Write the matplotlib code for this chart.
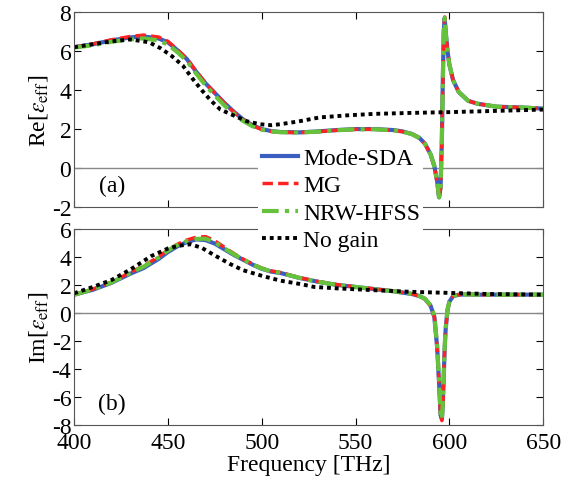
import matplotlib
matplotlib.use('Agg')
import matplotlib.pyplot as plt

plt.rcParams['font.family'] = ['Liberation Serif', 'DejaVu Serif']
plt.rcParams['mathtext.fontset'] = 'stix'
plt.rcParams['axes.unicode_minus'] = False
plt.rcParams['font.size'] = 17

# frequency grid for the three gain curves (THz)
freq = [400, 410, 420, 430, 437, 445, 450, 455, 460, 465, 470, 475, 480, 485, 490,
        495, 500, 505, 510, 520, 530, 540, 550, 560, 570, 575, 580, 584, 587, 590,
        592, 593.5, 594.5, 595.3, 596, 596.5, 597, 597.5, 598, 599, 600, 602, 605,
        610, 615, 625, 640, 650]

# Re[eps_eff]
re_sda = [6.2, 6.35, 6.55, 6.7, 6.75, 6.65, 6.45, 6.05, 5.6, 4.95, 4.35, 3.85, 3.35,
          2.9, 2.5, 2.2, 2.0, 1.9, 1.85, 1.83, 1.88, 1.95, 2.0, 2.0, 1.95, 1.88, 1.75,
          1.55, 1.25, 0.7, 0.1, -0.7, -1.5, -1.0, 1.5, 4.5, 7.0, 7.7, 7.0, 6.0, 5.3,
          4.5, 3.9, 3.45, 3.3, 3.15, 3.1, 3.05]
re_mg = [6.2, 6.37, 6.58, 6.75, 6.82, 6.72, 6.5, 6.08, 5.62, 4.97, 4.37, 3.85, 3.33,
         2.88, 2.48, 2.18, 1.98, 1.88, 1.84, 1.82, 1.87, 1.94, 1.99, 1.99, 1.94, 1.87,
         1.74, 1.54, 1.24, 0.68, 0.05, -0.75, -1.55, -1.05, 1.45, 4.45, 7.0, 7.75,
         7.05, 6.0, 5.3, 4.5, 3.9, 3.45, 3.3, 3.15, 3.1, 3.05]
re_nrw = [6.18, 6.3, 6.48, 6.6, 6.65, 6.55, 6.33, 5.95, 5.5, 4.85, 4.25, 3.72, 3.22,
          2.8, 2.42, 2.15, 1.97, 1.88, 1.84, 1.82, 1.87, 1.94, 1.99, 1.99, 1.94, 1.87,
          1.74, 1.54, 1.24, 0.7, 0.1, -0.7, -1.5, -1.0, 1.5, 4.5, 7.0, 7.7, 7.0, 6.0,
          5.3, 4.5, 3.9, 3.45, 3.3, 3.15, 3.1, 3.05]

# Im[eps_eff]
im_sda = [1.3, 1.65, 2.15, 2.8, 3.2, 3.85, 4.35, 4.75, 5.05, 5.25, 5.2, 4.95, 4.55,
          4.15, 3.8, 3.45, 3.15, 2.95, 2.85, 2.5, 2.22, 2.0, 1.85, 1.7, 1.55, 1.45,
          1.35, 1.2, 1.0, 0.5, -0.3, -2.5, -5.0, -7.3, -7.6, -6.5, -4.5, -2.5, -1.2,
          0.2, 0.8, 1.2, 1.3, 1.32, 1.3, 1.3, 1.3, 1.3]
im_mg = [1.3, 1.7, 2.2, 2.9, 3.35, 4.0, 4.5, 4.9, 5.2, 5.4, 5.45, 5.15, 4.7, 4.25,
         3.85, 3.5, 3.2, 3.0, 2.88, 2.52, 2.24, 2.02, 1.86, 1.71, 1.56, 1.46, 1.36,
         1.2, 1.0, 0.5, -0.3, -2.6, -5.1, -7.4, -7.7, -6.6, -4.5, -2.5, -1.2, 0.2,
         0.8, 1.2, 1.3, 1.32, 1.3, 1.3, 1.3, 1.3]
im_nrw = [1.3, 1.68, 2.18, 2.85, 3.3, 3.95, 4.45, 4.85, 5.12, 5.28, 5.3, 5.05, 4.62,
          4.2, 3.82, 3.47, 3.17, 2.97, 2.86, 2.5, 2.22, 2.0, 1.85, 1.7, 1.55, 1.45,
          1.35, 1.2, 1.0, 0.55, -0.2, -2.4, -4.9, -7.2, -7.6, -6.4, -4.4, -2.4, -1.1,
          0.25, 0.8, 1.2, 1.3, 1.32, 1.3, 1.3, 1.3, 1.3]

# no-gain reference
freq_ng_re = [400, 410, 420, 430, 440, 446, 452, 458, 463, 468, 473, 478, 485, 492,
              499, 505, 510, 520, 531, 545, 560, 580, 600, 620, 650]
re_ng = [6.2, 6.35, 6.5, 6.6, 6.45, 6.15, 5.75, 5.25, 4.6, 4.0, 3.45, 3.0, 2.7, 2.4,
         2.25, 2.2, 2.25, 2.4, 2.6, 2.7, 2.78, 2.83, 2.87, 2.92, 3.0]
freq_ng_im = [400, 410, 420, 430, 441, 450, 456, 462, 468, 475, 483, 490, 500, 510,
              521, 528, 540, 563, 580, 599, 620, 650]
im_ng = [1.4, 1.85, 2.35, 3.1, 4.05, 4.6, 4.8, 4.9, 4.65, 4.1, 3.5, 3.05, 2.65, 2.3,
         2.05, 1.85, 1.75, 1.6, 1.5, 1.43, 1.35, 1.3]

labels = ['Mode-SDA', 'MG', 'NRW-HFSS', 'No gain']
c_blue = '#3b5fc0'
c_red = '#ff2222'
c_green = '#66c23a'

fig = plt.figure(figsize=(5.7, 4.85), dpi=100)
ax1 = fig.add_axes([0.130, 0.571, 0.823, 0.402])
ax2 = fig.add_axes([0.130, 0.122, 0.823, 0.404])

for ax, s1, s2, s3, fn, sn in [(ax1, re_sda, re_mg, re_nrw, freq_ng_re, re_ng),
                               (ax2, im_sda, im_mg, im_nrw, freq_ng_im, im_ng)]:
    ax.axhline(0, color='#888888', lw=1)
    ax.plot(freq, s1, color=c_blue, lw=3, label=labels[0])
    ax.plot(freq, s2, color=c_red, lw=2.5, ls=(0, (3, 1.5)), label=labels[1])
    ax.plot(freq, s3, color=c_green, lw=3, ls=(0, (4, 1.5, 1, 1.5)), label=labels[2])
    ax.plot(fn, sn, color='black', lw=2.8, ls=(0, (1, 1)), label=labels[3])
    ax.set_xlim(400, 650)
    ax.set_xticks([400, 450, 500, 550, 600, 650])
    ax.tick_params(direction='in', top=True, right=True, length=5, pad=2)
    for sp in ax.spines.values():
        sp.set_color('#555555')

ax1.set_ylim(-2, 8)
ax1.set_yticks([-2, 0, 2, 4, 6, 8])
ax1.set_xticklabels([])
ax1.set_ylabel(r'Re[$\varepsilon_{\rm eff}$]', labelpad=1)
ax1.text(0.08, 0.11, '(a)', transform=ax1.transAxes, ha='center', va='center')

ax2.set_ylim(-8, 6)
ax2.set_yticks([-8, -6, -4, -2, 0, 2, 4, 6])
ax2.tick_params(axis='x', pad=5)
ax2.set_ylabel(r'Im[$\varepsilon_{\rm eff}$]', labelpad=1)
ax2.set_xlabel('Frequency [THz]', labelpad=1)
ax2.text(0.08, 0.11, '(b)', transform=ax2.transAxes, ha='center', va='center')

h, l = ax1.get_legend_handles_labels()
fig.legend(h, l, loc='upper left', bbox_to_anchor=(258 / 570, 1 - 145 / 485),
           frameon=True, facecolor='white', edgecolor='none', framealpha=1,
           handlelength=1.55, handletextpad=0.2, labelspacing=0.25,
           borderpad=0.15, borderaxespad=0, fontsize=17)

fig.savefig('out.png', dpi=100)
